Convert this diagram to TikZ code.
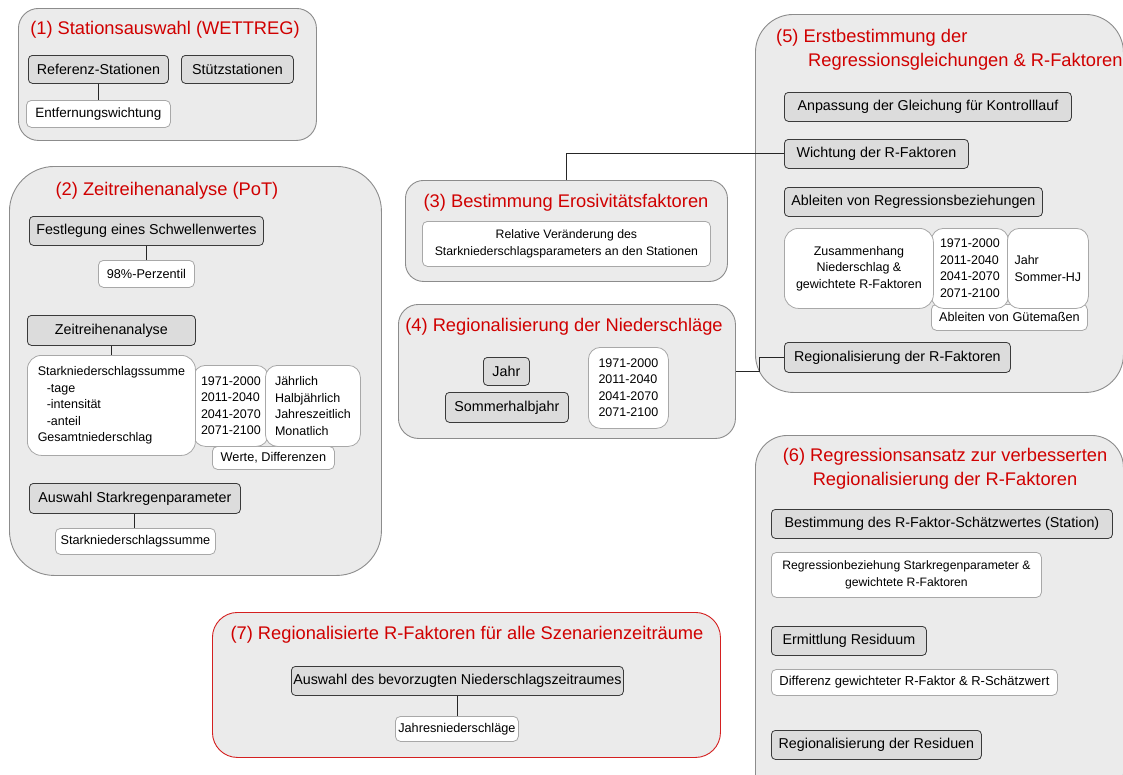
\documentclass[tikz,border=0pt]{standalone}
\usepackage{fontspec}
\setmainfont{Liberation Sans}
\definecolor{outfill}{HTML}{EBEBEB}
\definecolor{outline}{HTML}{8C8C8C}
\definecolor{gfill}{HTML}{DCDCDC}
\definecolor{gline}{HTML}{3A3A3A}
\definecolor{wline}{HTML}{A8A8A8}
\definecolor{ttl}{HTML}{D00000}
\definecolor{redline}{HTML}{D42020}
\tikzset{
  outer/.style={draw=outline, fill=outfill, line width=0.9pt, anchor=north west, inner sep=0pt},
  gbox/.style={draw=gline, fill=gfill, line width=0.8pt, rounded corners=4pt, anchor=north west, inner sep=0pt, font=\fontsize{14.3}{17}\selectfont},
  wbox/.style={draw=wline, fill=white, line width=0.8pt, rounded corners=5pt, anchor=north west, inner sep=0pt, font=\fontsize{12.7}{15}\selectfont},
  lbox/.style={draw=wline, fill=white, line width=0.8pt, rounded corners=12pt, anchor=north west, inner sep=0pt, align=left, font=\fontsize{12.5}{16.5}\selectfont},
  title/.style={text=ttl, inner sep=0pt, font=\fontsize{18.3}{24}\selectfont},
  conn/.style={draw=black!85, line width=0.9pt}
}
\begin{document}
\begin{tikzpicture}[x=1pt,y=-1pt]
\useasboundingbox (0,0) rectangle (1123,774);
\fill[white] (0,0) rectangle (1123,774);

% ---------- Box 1 ----------
\node[outer, minimum width=298pt, minimum height=132pt, rounded corners=20pt] (b1) at (18,8) {};
\node[title] (t1) at (165,30) {(1) Stationsauswahl (WETTREG)};
\node[gbox, minimum width=140pt, minimum height=28pt] (ref) at (28,55) {Referenz-Stationen};
\node[gbox, minimum width=112pt, minimum height=28pt] (stuetz) at (181,55) {Stützstationen};
\node[wbox, minimum width=144pt, minimum height=27pt, font=\fontsize{13.5}{16}\selectfont] (entf) at (26,100) {Entfernungswichtung};
\draw[conn] (ref.south) -- (ref.south |- entf.north);

% ---------- Box 2 ----------
\node[outer, minimum width=372pt, minimum height=409pt, rounded corners=45pt] (b2) at (9,166) {};
\node[title] (t2) at (167,191) {(2) Zeitreihenanalyse (PoT)};
\node[gbox, minimum width=234pt, minimum height=29pt] (fest) at (29,216) {Festlegung eines Schwellenwertes};
\node[wbox, minimum width=96pt, minimum height=27pt] (perz) at (98,260) {98\%-Perzentil};
\draw[conn] (fest.south) -- (fest.south |- perz.north);
\node[gbox, minimum width=168pt, minimum height=30pt] (zeit) at (27,315) {Zeitreihenanalyse};
\node[wbox, minimum width=122pt, minimum height=23pt] (werte) at (212,446) {Werte, Differenzen};
\node[lbox, minimum width=75pt, minimum height=81pt] (yrs2) at (193,365) {1971-2000\\2011-2040\\2041-2070\\2071-2100};
\node[lbox, minimum width=95pt, minimum height=81pt] (jahr2) at (265,365) {Jährlich\\Halbjährlich\\Jahreszeitlich\\Monatlich};
\node[lbox, minimum width=168pt, minimum height=100pt, rounded corners=14pt] (stark) at (27,355) {Starkniederschlagssumme\\\hspace*{9pt}-tage\\\hspace*{9pt}-intensität\\\hspace*{9pt}-anteil\\Gesamtniederschlag};
\draw[conn] (zeit.south) -- (zeit.south |- stark.north);
\node[gbox, minimum width=211pt, minimum height=30pt] (ausw) at (29,483) {Auswahl Starkregenparameter};
\node[wbox, minimum width=160pt, minimum height=26pt] (stark2) at (55,528) {Starkniederschlagssumme};
\draw[conn] (ausw.south) -- (ausw.south |- stark2.north);

% ---------- Box 3 ----------
\node[outer, minimum width=322pt, minimum height=101pt, rounded corners=18pt] (b3) at (405,180) {};
\node[title] (t3) at (566,203) {(3) Bestimmung Erosivitätsfaktoren};
\node[wbox, minimum width=288pt, minimum height=45pt, align=center, font=\fontsize{12.3}{16.5}\selectfont] (rel) at (422,221) {Relative Veränderung des\\Starkniederschlagsparameters an den Stationen};

% ---------- Box 4 ----------
\node[outer, minimum width=337pt, minimum height=134pt, rounded corners=20pt] (b4) at (398,304) {};
\node[title] (t4) at (564,327) {(4) Regionalisierung der Niederschläge};
\node[gbox, minimum width=46pt, minimum height=28pt] (jahr4) at (483,357) {Jahr};
\node[gbox, minimum width=123pt, minimum height=30pt] (sommer) at (445,392) {Sommerhalbjahr};
\node[lbox, minimum width=80pt, minimum height=81pt] (yrs4) at (588,347) {1971-2000\\2011-2040\\2041-2070\\2071-2100};

% ---------- Box 5 ----------
\node[outer, minimum width=368pt, minimum height=378pt, rounded corners=38pt] (b5) at (755,14) {};
\node[title, anchor=west] (t5a) at (776,38) {(5) Erstbestimmung der};
\node[title, anchor=west] (t5b) at (808,62) {Regressionsgleichungen \& R-Faktoren};
\node[gbox, minimum width=287pt, minimum height=29pt] (anp) at (784,92) {Anpassung der Gleichung für Kontrolllauf};
\node[gbox, minimum width=184pt, minimum height=29pt] (wicht) at (784,139) {Wichtung der R-Faktoren};
\node[gbox, minimum width=258pt, minimum height=29pt] (ableit) at (784,187) {Ableiten von Regressionsbeziehungen};
\node[wbox, minimum width=156pt, minimum height=26pt] (guete) at (931,304) {Ableiten von Gütemaßen};
\node[lbox, minimum width=77pt, minimum height=80pt] (yrs5) at (931,228) {1971-2000\\2011-2040\\2041-2070\\2071-2100};
\node[lbox, minimum width=81pt, minimum height=80pt] (jahr5) at (1007,228) {Jahr\\Sommer-HJ};
\node[lbox, minimum width=149pt, minimum height=80pt, rounded corners=14pt, align=center] (zus) at (784,228) {Zusammenhang\\Niederschlag \&\\gewichtete R-Faktoren};
\node[gbox, minimum width=226pt, minimum height=30pt] (regR) at (784,342) {Regionalisierung der R-Faktoren};

% ---------- Box 6 ----------
\node[outer, minimum width=368pt, minimum height=370pt, rounded corners=32pt] (b6) at (755,435) {};
\node[title, align=center] (t6) at (945,469) {(6) Regressionsansatz zur verbesserten\\Regionalisierung der R-Faktoren};
\node[gbox, minimum width=341pt, minimum height=29pt] (best) at (771,509) {Bestimmung des R-Faktor-Schätzwertes (Station)};
\node[wbox, minimum width=270pt, minimum height=45pt, align=center, font=\fontsize{12.2}{16.5}\selectfont] (regb) at (771,552) {Regressionbeziehung Starkregenparameter \&\\gewichtete R-Faktoren};
\node[gbox, minimum width=155pt, minimum height=29pt] (erm) at (771,626) {Ermittlung Residuum};
\node[wbox, minimum width=286pt, minimum height=26pt, font=\fontsize{13}{15}\selectfont] (diff) at (771,669) {Differenz gewichteter R-Faktor \& R-Schätzwert};
\node[gbox, minimum width=210pt, minimum height=29pt] (regRes) at (771,730) {Regionalisierung der Residuen};

% ---------- Box 7 ----------
\node[outer, draw=redline, minimum width=508pt, minimum height=145pt, rounded corners=25pt] (b7) at (212,612) {};
\node[title] (t7) at (467,635) {(7) Regionalisierte R-Faktoren für alle Szenarienzeiträume};
\node[gbox, minimum width=332pt, minimum height=29pt] (auswN) at (291,666) {Auswahl des bevorzugten Niederschlagszeitraumes};
\node[wbox, minimum width=123pt, minimum height=25pt] (jn) at (395,716) {Jahresniederschläge};
\draw[conn] (auswN.south) -- (auswN.south |- jn.north);

% ---------- Inter-box connectors ----------
\draw[conn] (b3.north) |- (wicht.west);
\draw[conn] (b4.east) -- ++(24,0) |- (regR.west);
\end{tikzpicture}
\end{document}
